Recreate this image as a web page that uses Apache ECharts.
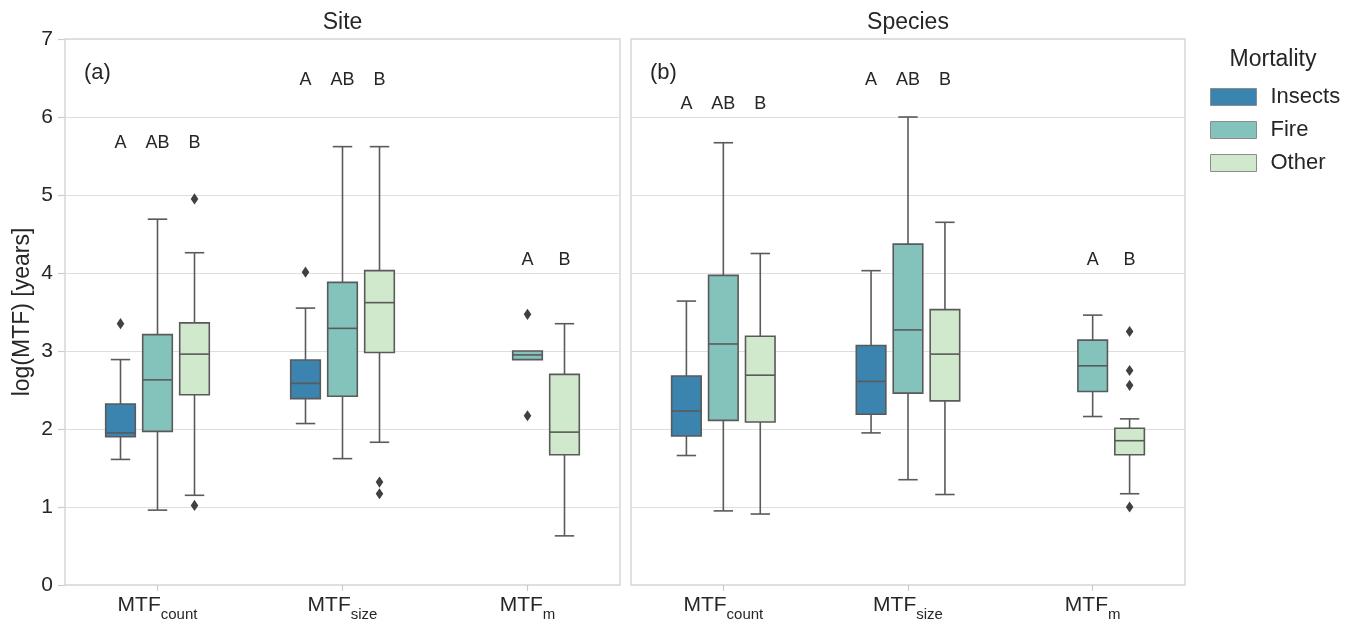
<!DOCTYPE html>
<html><head><meta charset="utf-8">
<script src="https://cdn.jsdelivr.net/npm/echarts@6/dist/echarts.min.js"></script>
<style>html,body{margin:0;padding:0;background:#fff}#c{width:1355px;height:626px}</style>
</head><body><div id="c"></div>
<script>
// ---------------- data ----------------
const categories = ['count', 'size', 'm'];
const mortality = ['Insects', 'Fire', 'Other'];
const colors = ['#3b84b0', '#84c3bb', '#d0e8cb'];
const yTicks = [0, 1, 2, 3, 4, 5, 6, 7];
const panelTitles = ['Site', 'Species'];
const panelTags = ['(a)', '(b)'];

// [min, Q1, median, Q3, max] for count, size, m  (null = no box)
const siteInsects    = [[1.61, 1.90, 1.95, 2.32, 2.89], [2.07, 2.39, 2.585, 2.885, 3.55], null];
const siteFire       = [[0.96, 1.97, 2.63, 3.21, 4.69], [1.62, 2.42, 3.29, 3.88, 5.62], [2.89, 2.89, 2.95, 3.00, 3.00]];
const siteOther      = [[1.15, 2.44, 2.96, 3.36, 4.26], [1.83, 2.98, 3.62, 4.03, 5.62], [0.63, 1.67, 1.96, 2.70, 3.35]];
const speciesInsects = [[1.66, 1.91, 2.23, 2.68, 3.64], [1.95, 2.19, 2.61, 3.07, 4.03], null];
const speciesFire    = [[0.95, 2.11, 3.09, 3.97, 5.67], [1.35, 2.46, 3.27, 4.37, 6.00], [2.16, 2.48, 2.81, 3.14, 3.46]];
const speciesOther   = [[0.91, 2.09, 2.69, 3.19, 4.25], [1.16, 2.36, 2.96, 3.53, 4.65], [1.17, 1.67, 1.85, 2.01, 2.13]];

// outliers: [categoryIndex, mortalityIndex, value]
const siteOutliers = [[0, 0, 3.35], [1, 0, 4.01], [0, 2, 4.95], [0, 2, 1.02], [1, 2, 1.32], [1, 2, 1.17], [2, 1, 3.47], [2, 1, 2.17]];
const speciesOutliers = [[2, 2, 3.25], [2, 2, 2.75], [2, 2, 2.56], [2, 2, 1.00]];

// significance letters per category, the mortality slot they sit over, and their height
const letterTexts = [['A', 'AB', 'B'], ['A', 'AB', 'B'], ['A', 'B']];
const letterSlots = [[0, 1, 2], [0, 1, 2], [1, 2]];
const siteLetterY = [5.67, 6.47, 4.17];
const speciesLetterY = [6.17, 6.47, 4.17];

// ---------------- style ----------------
const FONT = '"Liberation Sans", Arial, sans-serif';
const TXT = '#262626';
const EDGE = '#5a5a5a';
const HUE_STEP = 0.2, BOX_W = 0.16, CAP_W = 0.105;
const grids = [
  { left: 65, top: 39, width: 555, height: 546 },
  { left: 631, top: 39, width: 554, height: 546 }
];

function slotX(api, c, hue) {
  const band = api.size([1, 0])[0];
  return { cx: api.coord([c, 0])[0] + (hue - 1) * HUE_STEP * band, band };
}

function boxSeries(name, hue, gi, stats) {
  const data = [];
  stats.forEach((s, i) => { if (s) data.push([i].concat(s)); });
  return {
    type: 'custom', name, xAxisIndex: gi, yAxisIndex: gi,
    itemStyle: { color: colors[hue] },
    encode: { x: 0, y: [1, 2, 3, 4, 5] },
    data,
    renderItem(params, api) {
      const c = api.value(0);
      const { cx, band } = slotX(api, c, hue);
      const w = BOX_W * band, cw = CAP_W * band;
      const py = i => api.coord([c, api.value(i)])[1];
      const yMin = py(1), yQ1 = py(2), yMed = py(3), yQ3 = py(4), yMax = py(5);
      const ls = { stroke: EDGE, lineWidth: 1.6 };
      const ch = [];
      if (yMax < yQ3 - 0.5) {
        ch.push({ type: 'line', shape: { x1: cx, y1: yMax, x2: cx, y2: yQ3 }, style: ls });
        ch.push({ type: 'line', shape: { x1: cx - cw / 2, y1: yMax, x2: cx + cw / 2, y2: yMax }, style: ls });
      }
      if (yMin > yQ1 + 0.5) {
        ch.push({ type: 'line', shape: { x1: cx, y1: yQ1, x2: cx, y2: yMin }, style: ls });
        ch.push({ type: 'line', shape: { x1: cx - cw / 2, y1: yMin, x2: cx + cw / 2, y2: yMin }, style: ls });
      }
      ch.push({ type: 'rect', shape: { x: cx - w / 2, y: yQ3, width: w, height: yQ1 - yQ3 },
        style: { fill: api.visual('color'), stroke: EDGE, lineWidth: 1.6 } });
      ch.push({ type: 'line', shape: { x1: cx - w / 2, y1: yMed, x2: cx + w / 2, y2: yMed }, style: ls });
      return { type: 'group', children: ch };
    }
  };
}

function outlierSeries(gi, pts) {
  return {
    type: 'custom', name: 'outliers' + gi, xAxisIndex: gi, yAxisIndex: gi,
    encode: { x: 0, y: 2 }, data: pts, z: 3,
    renderItem(params, api) {
      const c = api.value(0);
      const { cx } = slotX(api, c, api.value(1));
      const y = api.coord([c, api.value(2)])[1];
      const hw = 3.8, hh = 5.6;
      return { type: 'polygon', shape: { points: [[cx, y - hh], [cx + hw, y], [cx, y + hh], [cx - hw, y]] },
        style: { fill: '#404040' } };
    }
  };
}

function letterSeries(gi, ys) {
  const data = [], texts = [];
  letterTexts.forEach((arr, c) => arr.forEach((t, j) => {
    data.push([c, letterSlots[c][j], ys[c]]); texts.push(t);
  }));
  return {
    type: 'custom', name: 'letters' + gi, xAxisIndex: gi, yAxisIndex: gi,
    encode: { x: 0, y: 2 }, data,
    renderItem(params, api) {
      const c = api.value(0);
      const { cx } = slotX(api, c, api.value(1));
      const y = api.coord([c, api.value(2)])[1];
      return { type: 'text', x: cx, y,
        style: { text: texts[params.dataIndex], align: 'center', verticalAlign: 'middle',
          fontSize: 18, fontFamily: FONT, fill: TXT } };
    }
  };
}

const xAxes = grids.map((g, gi) => ({
  type: 'category', gridIndex: gi, data: categories,
  axisLine: { show: false },
  axisTick: { show: true, alignWithLabel: true, length: 6, lineStyle: { color: '#cccccc', width: 1.2 } },
  axisLabel: {
    margin: 4, color: TXT,
    formatter: v => '{m|MTF}{s|' + v + '}',
    rich: {
      m: { fontSize: 21, fontFamily: FONT, color: TXT },
      s: { fontSize: 15, fontFamily: FONT, color: TXT, padding: [18, 0, 0, 0] }
    }
  },
  splitLine: { show: false }
}));

const yAxes = grids.map((g, gi) => ({
  type: 'value', gridIndex: gi, min: yTicks[0], max: yTicks[yTicks.length - 1], interval: 1,
  name: gi === 0 ? 'log(MTF) [years]' : '',
  nameLocation: 'middle', nameGap: 31,
  nameTextStyle: { fontSize: 23, fontFamily: FONT, color: TXT },
  axisLine: { show: false },
  axisTick: { show: gi === 0, length: 7, lineStyle: { color: '#cccccc', width: 1.2 } },
  axisLabel: { show: gi === 0, fontSize: 21, fontFamily: FONT, color: TXT, margin: 12 },
  splitLine: { show: true, lineStyle: { color: '#dedede', width: 1.2 } }
}));

const series = [
  boxSeries('Insects', 0, 0, siteInsects),
  boxSeries('Fire', 1, 0, siteFire),
  boxSeries('Other', 2, 0, siteOther),
  boxSeries('Insects', 0, 1, speciesInsects),
  boxSeries('Fire', 1, 1, speciesFire),
  boxSeries('Other', 2, 1, speciesOther),
  outlierSeries(0, siteOutliers),
  outlierSeries(1, speciesOutliers),
  letterSeries(0, siteLetterY),
  letterSeries(1, speciesLetterY)
];

const graphics = [];
grids.forEach((g, gi) => {
  graphics.push({ type: 'text', x: g.left + g.width / 2, y: 23,
    style: { text: panelTitles[gi], align: 'center', verticalAlign: 'middle', fontSize: 23, fontFamily: FONT, fill: TXT } });
  graphics.push({ type: 'text', x: g.left + 19, y: 73,
    style: { text: panelTags[gi], align: 'left', verticalAlign: 'middle', fontSize: 22, fontFamily: FONT, fill: TXT } });
});
graphics.push({ type: 'text', x: 1273, y: 60,
  style: { text: 'Mortality', align: 'center', verticalAlign: 'middle', fontSize: 23, fontFamily: FONT, fill: TXT } });

const chart = echarts.init(document.getElementById('c'), null, { renderer: 'canvas' });
chart.setOption({
  animation: false,
  backgroundColor: '#ffffff',
  textStyle: { fontFamily: FONT },
  grid: grids.map(g => Object.assign({ show: true, borderColor: '#d6d6d6', borderWidth: 1.5, backgroundColor: 'transparent' }, g)),
  xAxis: xAxes,
  yAxis: yAxes,
  legend: {
    data: mortality, orient: 'vertical', left: 1205, top: 81,
    icon: 'rect', itemWidth: 46, itemHeight: 17, itemGap: 11, selectedMode: false,
    itemStyle: { borderColor: '#8c8c8c', borderWidth: 1 },
    textStyle: { fontSize: 22, fontFamily: FONT, color: TXT, padding: [0, 0, 0, 9] }
  },
  graphic: graphics,
  series
});
</script></body></html>
